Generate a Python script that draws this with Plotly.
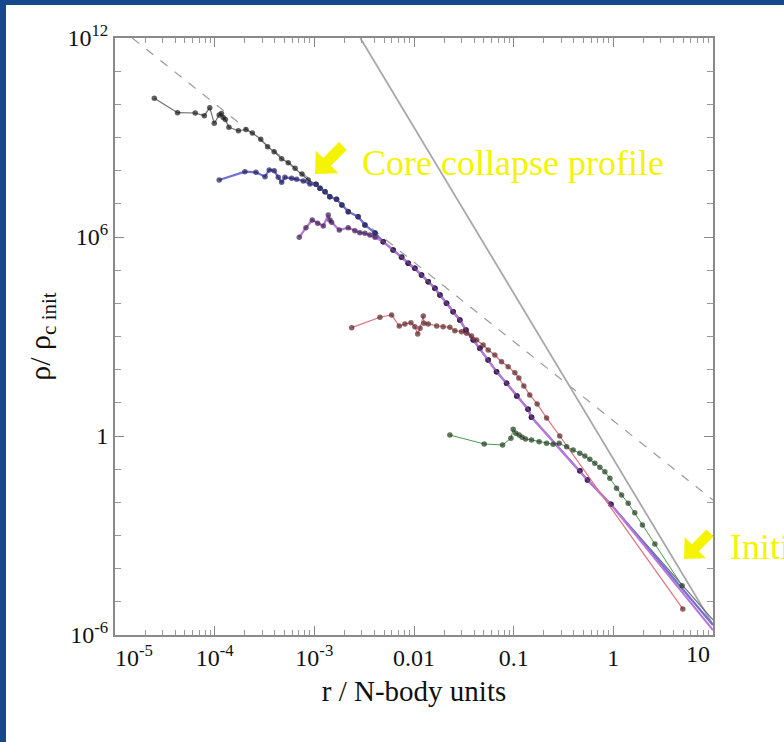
import plotly.graph_objects as go

# ---------------- density profiles: r [N-body units], rho / rho_c,init ----------------
# innermost part of the latest (deepest) core-collapse snapshot
black_inner_r = [2.48e-5, 4.24e-5, 6.38e-5, 7.87e-5, 8.93e-5, 9.91e-5, 1.11e-4, 1.17e-4,
                 1.22e-4, 1.28e-4, 1.39e-4, 1.73e-4, 2.06e-4, 2.39e-4, 2.90e-4, 3.40e-4,
                 3.95e-4, 4.70e-4, 5.47e-4, 6.41e-4, 7.52e-4, 8.69e-4]
black_inner_rho = [1.52e10, 5.6e9, 5.48e9, 4.55e9, 7.92e9, 2.68e9, 4.77e9, 5.3e9,
                   4.01e9, 3.49e9, 2.03e9, 1.6e9, 1.74e9, 1.37e9, 8.83e8, 5.28e8,
                   3.73e8, 2.3e8, 1.74e8, 1.18e8, 7.94e7, 5.24e7]

blue_inner_r = [1.11e-4, 2.01e-4, 2.60e-4, 3.20e-4, 3.53e-4, 3.96e-4, 4.35e-4, 4.70e-4,
                5.07e-4, 5.92e-4, 6.64e-4, 7.74e-4, 9.04e-4]
blue_inner_rho = [5.24e7, 9.31e7, 8.93e7, 6.58e7, 1.05e8, 1.0e8, 6.31e7, 4.47e7,
                  6.31e7, 5.89e7, 5.5e7, 4.89e7, 3.96e7]

purple_inner_r = [7.06e-4, 8.24e-4, 9.53e-4, 1.08e-3, 1.23e-3, 1.38e-3, 1.43e-3, 1.49e-3,
                  1.78e-3, 2.19e-3, 2.55e-3, 2.86e-3, 3.22e-3, 3.61e-3, 4.06e-3]
purple_inner_rho = [9.82e5, 1.91e6, 3.26e6, 2.59e6, 2.15e6, 4.61e6, 3.26e6, 2.78e6,
                    1.63e6, 1.91e6, 1.55e6, 1.35e6, 1.29e6, 1.15e6, 9.82e5]

# common outer envelope of the late snapshots
envelope_r = [1.04e-3, 1.14e-3, 1.28e-3, 1.43e-3, 1.67e-3, 1.89e-3, 2.19e-3, 2.75e-3,
              3.22e-3, 4.06e-3, 4.91e-3, 6.18e-3, 7.51e-3, 8.75e-3, 1.02e-2, 1.19e-2,
              1.39e-2, 1.62e-2, 1.82e-2, 2.12e-2, 2.47e-2, 2.88e-2, 3.32e-2, 3.93e-2,
              4.58e-2, 5.55e-2, 6.73e-2, 8.49e-2, 0.1076, 0.1396, 0.151, 0.461, 0.551, 0.944]
envelope_rho = [3.88e7, 2.94e7, 2.32e7, 1.64e7, 1.37e7, 9.2e6, 5.8e6, 4.1e6,
                2.3e6, 1.32e6, 7.22e5, 4.06e5, 2.45e5, 1.61e5, 1.14e5, 7.16e4,
                4.5e4, 2.84e4, 1.79e4, 1.0e4, 5.61e3, 3.15e3, 1.57e3, 785,
                442, 196, 87, 38.9, 16.1, 6.4, 3.67, 0.0902, 0.0473, 8.75e-3]

# where each late snapshot meets the outer boundary (r = 10)
edge_r = [10, 10, 10]
edge_rho = [2.84e-6, 2.0e-6, 1.4e-6]

red_r = [2.37e-3, 4.55e-3, 5.96e-3, 7.11e-3, 8.11e-3, 9.31e-3, 1.02e-2, 1.09e-2,
         1.15e-2, 1.24e-2, 1.26e-2, 1.39e-2, 1.69e-2, 1.96e-2, 2.29e-2, 2.57e-2,
         3.0e-2, 3.37e-2, 3.78e-2, 4.25e-2, 4.94e-2, 5.55e-2, 6.47e-2, 7.56e-2,
         8.81e-2, 0.1028, 0.1127, 0.1265, 0.145, 0.172, 0.214, 0.29, 4.98]
red_rho = [1.85e3, 3.8e3, 4.46e3, 2.07e3, 2.39e3, 2.61e3, 1.98e3, 1.19e3,
           1.77e3, 4.16e3, 2.5e3, 2.39e3, 2.07e3, 1.98e3, 1.9e3, 1.5e3,
           1.4e3, 1.25e3, 1.04e3, 785, 556, 393, 277, 174,
           123, 81, 56.2, 32.3, 17.3, 9.25, 3.5, 1.0, 6.1e-6]

green_r = [2.29e-2, 5.06e-2, 7.74e-2, 9.38e-2, 9.89e-2, 0.105, 0.1135, 0.1216,
           0.1315, 0.151, 0.18, 0.214, 0.249, 0.286, 0.34, 0.395,
           0.461, 0.518, 0.581, 0.652, 0.733, 0.822, 0.923, 1.077,
           1.21, 1.41, 1.64, 1.96, 2.61, 4.9]
green_rho = [1.07, 0.575, 0.537, 0.855, 1.6, 1.21, 1.07, 0.916,
             0.815, 0.76, 0.675, 0.604, 0.564, 0.604, 0.477, 0.379,
             0.302, 0.25, 0.199, 0.151, 0.114, 0.0841, 0.0532, 0.0265,
             0.0167, 9.38e-3, 4.89e-3, 2.08e-3, 5.56e-4, 3.08e-5]

# reference power laws
isothermal_r = [1.49e-5, 10]
isothermal_rho = [1e12, 1.17e-2]
steep_r = [2.89e-3, 10]
steep_rho = [1e12, 2.04e-6]

# axis labels
x_tick_vals = [1e-5, 1e-4, 1e-3, 1e-2, 1e-1, 1, 10]
x_tick_text = ["", "10<sup>-4</sup>", "10<sup>-3</sup>", "0.01", "0.1", "1", ""]
y_tick_vals = [1e-6, 1, 1e6, 1e12]
y_tick_text = ["10<sup>-6</sup>", "1", "10<sup>6</sup>", "10<sup>12</sup>"]

# ---------------- figure geometry ----------------
W, H = 784, 742
ML, MR, MT, MB = 115, 71, 38, 107
PW, PH = W - ML - MR, H - MT - MB


def px_to_paper(px, py):
    return (px - ML) / PW, (H - MB - py) / PH


def arrow_path(tip, tail, head, half, shaft):
    tx, ty = tip
    dx, dy = tip[0] - tail[0], tip[1] - tail[1]
    n = (dx * dx + dy * dy) ** 0.5
    dx, dy = dx / n, dy / n
    nx, ny = -dy, dx
    bx, by = tx - dx * head, ty - dy * head
    pts = [(tx, ty),
           (bx + nx * half, by + ny * half),
           (bx + nx * shaft, by + ny * shaft),
           (tail[0] + nx * shaft, tail[1] + ny * shaft),
           (tail[0] - nx * shaft, tail[1] - ny * shaft),
           (bx - nx * shaft, by - ny * shaft),
           (bx - nx * half, by - ny * half)]
    out = []
    for i, (x, y) in enumerate(pts):
        u, v = px_to_paper(x, y)
        out.append(("M" if i == 0 else "L") + f"{u:.5f},{v:.5f}")
    return " ".join(out) + " Z"


fig = go.Figure()

fig.add_trace(go.Scatter(x=isothermal_r, y=isothermal_rho, mode="lines",
                         line=dict(color="#9a9a9a", width=1.2, dash="dash"),
                         showlegend=False, hoverinfo="skip"))
fig.add_trace(go.Scatter(x=steep_r, y=steep_rho, mode="lines",
                         line=dict(color="#a8a8a8", width=1.8),
                         showlegend=False, hoverinfo="skip"))


def add_profile(r, rho, line_color, marker_color, width=1.2, hide_last=False):
    sizes = [5.5] * len(r)
    if hide_last:
        sizes[-1] = 0
    fig.add_trace(go.Scatter(
        x=r, y=rho, mode="lines+markers",
        line=dict(color=line_color, width=width),
        marker=dict(size=sizes, color=marker_color, line=dict(width=0)),
        showlegend=False))


add_profile(black_inner_r + envelope_r + edge_r[:1],
            black_inner_rho + envelope_rho + edge_rho[:1],
            "#707070", "#1b1b1b", width=1.2, hide_last=True)
add_profile(blue_inner_r + envelope_r + edge_r[1:2],
            blue_inner_rho + envelope_rho + edge_rho[1:2],
            "#7070d8", "#20205c", width=2.2, hide_last=True)
add_profile(purple_inner_r + envelope_r[10:] + edge_r[2:],
            purple_inner_rho + envelope_rho[10:] + edge_rho[2:],
            "#b878d8", "#3c1c50", width=2.2, hide_last=True)
add_profile(red_r, red_rho, "#e07080", "#5a2424", width=1.2)
add_profile(green_r, green_rho, "#4a9a4a", "#1e3a1e", width=1.0)

serif = "Liberation Serif, Times New Roman, serif"
tick_font = dict(family=serif, size=24, color="#111111")

minor_x = [k * 10.0 ** e for e in range(-5, 1) for k in range(2, 10)]
minor_y = [10.0 ** e for e in range(-5, 12) if e not in (0, 6)]

fig.update_xaxes(
    type="log", range=[-5, 1],
    tickmode="array", tickvals=x_tick_vals, ticktext=x_tick_text,
    ticks="inside", ticklen=9, tickwidth=1.2, tickcolor="#888",
    minor=dict(tickmode="array", tickvals=minor_x, ticks="inside",
               ticklen=5, tickwidth=1, tickcolor="#999", showgrid=False),
    showline=True, linecolor="#8a8a8a", linewidth=2, mirror="allticks",
    showgrid=False, zeroline=False, tickfont=tick_font,
    title=dict(text="r / N-body units", font=dict(family=serif, size=29, color="#111111"),
               standoff=11),
)
fig.update_yaxes(
    type="log", range=[-6, 12],
    tickmode="array", tickvals=y_tick_vals, ticktext=y_tick_text,
    ticks="inside", ticklen=9, tickwidth=1.2, tickcolor="#888",
    minor=dict(tickmode="array", tickvals=minor_y, ticks="inside",
               ticklen=6, tickwidth=1, tickcolor="#999", showgrid=False),
    showline=True, linecolor="#8a8a8a", linewidth=2, mirror="allticks",
    showgrid=False, zeroline=False, tickfont=tick_font,
    title=dict(text="ρ/ ρ<sub>c init</sub>", font=dict(family=serif, size=30, color="#111111"),
               standoff=8),
)

# white slide panel behind the chart
p0 = px_to_paper(6, 742)
p1 = px_to_paper(784, 5)
shapes = [dict(type="rect", xref="paper", yref="paper", x0=p0[0], y0=p0[1] - 0.05,
               x1=p1[0] + 0.05, y1=p1[1], fillcolor="white", line=dict(width=0),
               layer="below")]

yellow = "#f4f400"
shapes.append(dict(type="path", xref="paper", yref="paper",
                   path=arrow_path((315, 174), (343, 146), 17, 16, 5.5),
                   fillcolor=yellow, line=dict(width=0)))
shapes.append(dict(type="path", xref="paper", yref="paper",
                   path=arrow_path((684, 559), (710, 533), 16, 15, 5),
                   fillcolor=yellow, line=dict(width=0)))

annotations = []
lx, ly = px_to_paper(360, 163)
annotations.append(dict(text="Core collapse profile", x=lx, y=ly, xref="paper", yref="paper",
                        xanchor="left", yanchor="middle", showarrow=False,
                        font=dict(family=serif, size=36, color=yellow)))
lx, ly = px_to_paper(728, 547)
annotations.append(dict(text="Initial profile", x=lx, y=ly, xref="paper", yref="paper",
                        xanchor="left", yanchor="middle", showarrow=False,
                        font=dict(family=serif, size=36, color=yellow)))

# end labels of the r axis sit just inside the frame corners
for txt, px in (("10<sup>-5</sup>", 134), ("10", 698)):
    u, _ = px_to_paper(px, 0)
    annotations.append(dict(text=txt, x=u, y=0, xref="paper", yref="paper",
                            xanchor="center", yanchor="top", yshift=-4, showarrow=False,
                            font=tick_font))

fig.update_layout(
    width=W, height=H,
    margin=dict(l=ML, r=MR, t=MT, b=MB, pad=0),
    paper_bgcolor="#15488c", plot_bgcolor="white",
    shapes=shapes, annotations=annotations,
    showlegend=False,
)

fig.write_html("out.html")
